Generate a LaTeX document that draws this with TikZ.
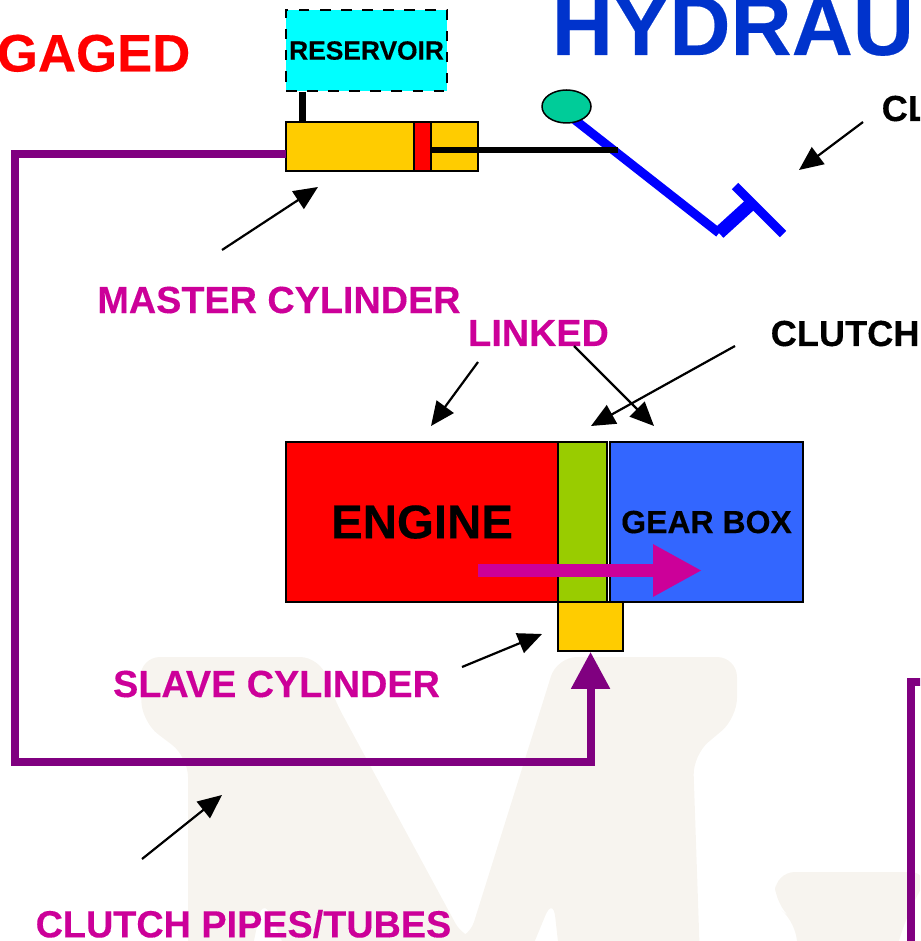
\documentclass[tikz,border=0pt]{standalone}
\usepackage{xcolor}
\usepackage{fontspec}
\setmainfont{Liberation Sans}[BoldFeatures={FakeBold=.25}]
\usetikzlibrary{arrows.meta,shapes.geometric}

\definecolor{markbeige}{RGB}{247,244,239}
\definecolor{pipepurple}{RGB}{128,0,128}
\definecolor{labelpink}{RGB}{204,0,153}
\definecolor{titleblue}{RGB}{0,51,204}
\definecolor{tankcyan}{RGB}{0,255,255}
\definecolor{cylyellow}{RGB}{255,204,0}
\definecolor{clutchgreen}{RGB}{153,204,0}
\definecolor{gearblue}{RGB}{51,102,255}
\definecolor{padgreen}{RGB}{0,204,153}

\tikzset{
  partbox/.style={draw=black,line width=.15mm,inner sep=0pt,anchor=north west,xshift=-.07mm,yshift=.07mm},
  pinklabel/.style={text=labelpink,font=\fontsize{10.75}{12}\selectfont\bfseries,inner sep=0pt},
  blacklabel/.style={font=\fontsize{10.3}{12}\selectfont\bfseries,inner sep=0pt,anchor=base west},
  pointer/.style={line width=.22mm,-{Triangle[length=2.4mm,width=2.1mm]}},
  lever/.style={draw=blue,line width=.9mm}
}

\begin{document}
\begin{tikzpicture}[x=.1mm,y=-.1mm]
\useasboundingbox (0,0) rectangle (920,941);
\clip (0,0) rectangle (920,941);

%watermark
\fill[markbeige,rounded corners=2mm] (140,657) -- (320,657) -- (333,697) -- (465,941) -- (468,941)
  -- (557,657) -- (737,657) -- (737,718) -- (693,755) -- (700,960) -- (560,960) -- (553,897)
  -- (527,960) -- (290,960) -- (263,897) -- (250,960) -- (188,960) -- (188,757) -- (142,722) -- cycle;
\fill[markbeige,rounded corners=2mm] (775,872) -- (930,872) -- (907,915) -- (893,960) -- (797,960)
  -- (797,923) -- (775,905) -- cycle;

%titles
\node[anchor=base west,inner sep=0pt,text=titleblue,font=\fontsize{24.1}{26}\selectfont\bfseries] (title) at (551,55) {HYDRAU};
\node[anchor=base east,inner sep=0pt,text=red,font=\fontsize{15}{16}\selectfont\bfseries] (state) at (191,71.5) {GAGED};

%reservoir and master cylinder
\node[partbox,fill=tankcyan,dashed,minimum width=16.1mm,minimum height=8.1mm,font=\fontsize{7.5}{9}\selectfont\bfseries] (reservoir) at (286,10) {RESERVOIR};
\node[partbox,fill=cylyellow,minimum width=19.2mm,minimum height=4.9mm] (master) at (286,122) {};
\node[partbox,fill=red,minimum width=1.7mm,minimum height=4.9mm] (piston) at (414,122) {};
\coordinate (stemx) at (302.5,100);
\draw[line width=.7mm] (reservoir.south -| stemx) -- (master.north -| stemx);

%pedal
\coordinate (leverend) at (575,120);
\coordinate (heel) at (719,233);
\coordinate (footmid) at (752,203);
\coordinate (footup) at (735,186);
\coordinate (footdown) at (783,234);
\draw[lever] (leverend) -- (heel);
\draw[lever,line width=1.3mm] (heel) -- (footmid);
\draw[lever] (footup) -- (footdown);
\node[draw=black,line width=.15mm,ellipse,fill=padgreen,inner sep=0pt,minimum width=4.9mm,minimum height=3.3mm] (pad) at (566.5,106.5) {};
\coordinate (rodend) at (618,150);
\draw[line width=.65mm] (piston.east |- rodend) -- (rodend);

%engine, clutch, gear box
\node[partbox,fill=red,minimum width=27.2mm,minimum height=16mm,font=\fontsize{13.5}{15}\selectfont\bfseries] (engine) at (286,442) {ENGINE};
\node[partbox,fill=clutchgreen,minimum width=4.9mm,minimum height=16mm] (clutch) at (558,442) {};
\node[partbox,fill=gearblue,minimum width=19.3mm,minimum height=16mm,font=\fontsize{9.1}{11}\selectfont\bfseries] (gearbox) at (610,442) {GEAR BOX};
\node[partbox,fill=cylyellow,minimum width=6.5mm,minimum height=4.9mm] (slave) at (558,602) {};
\coordinate (driveA) at (478,570.5);
\coordinate (driveB) at (702,570.5);
\draw[labelpink,line width=1.3mm,-{Triangle[length=4.9mm,width=4.9mm]}] (driveA) -- (driveB);

%clutch pipes
\coordinate (pipeA) at (286,154);
\coordinate (pipeB) at (15,154);
\coordinate (pipeC) at (15,762);
\draw[pipepurple,line width=.8mm,-{Triangle[length=3.7mm,width=3.7mm]}] (pipeA) -- (pipeB) -- (pipeC) -- (slave.south |- pipeC) -- (slave.south);
\coordinate (otherA) at (925,682);
\coordinate (otherB) at (911,682);
\coordinate (otherC) at (911,950);
\draw[pipepurple,line width=.8mm] (otherA) -- (otherB) -- (otherC);

%labels
\node[pinklabel] (masterlabel) at (279,300) {MASTER CYLINDER};
\node[pinklabel] (linkedlabel) at (538.5,333) {LINKED};
\node[pinklabel] (slavelabel) at (276.5,684) {SLAVE CYLINDER};
\node[pinklabel] (pipeslabel) at (243.5,924) {CLUTCH PIPES/TUBES};
\node[blacklabel] (clutchlabel) at (770,346) {CLUTCH};
\node[blacklabel] (pedallabel) at (881,121) {CL};

%pointers
\coordinate (masterA) at (222,250);
\coordinate (masterB) at (318,187);
\coordinate (pedalA) at (863,122);
\coordinate (pedalB) at (799,170);
\coordinate (linkedA) at (478,362);
\coordinate (linkedB) at (431,426);
\coordinate (linkedC) at (574,346);
\coordinate (linkedD) at (654,426);
\coordinate (clutchA) at (735,346);
\coordinate (clutchB) at (591,426);
\coordinate (slaveA) at (462,667);
\coordinate (slaveB) at (542,634);
\coordinate (pipesA) at (142,859);
\coordinate (pipesB) at (222,795);
\draw[pointer] (masterA) -- (masterB);
\draw[pointer] (pedalA) -- (pedalB);
\draw[pointer] (linkedA) -- (linkedB);
\draw[pointer] (linkedC) -- (linkedD);
\draw[pointer] (clutchA) -- (clutchB);
\draw[pointer] (slaveA) -- (slaveB);
\draw[pointer] (pipesA) -- (pipesB);
\end{tikzpicture}
\end{document}
